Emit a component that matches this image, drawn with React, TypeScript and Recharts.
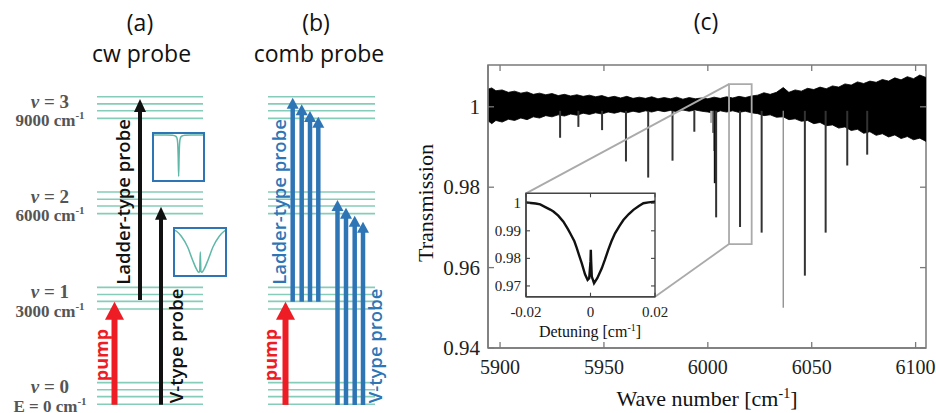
import React from 'react';
import {
  ComposedChart,
  LineChart,
  Line,
  Area,
  Scatter,
  XAxis,
  YAxis,
  ReferenceArea,
  ReferenceLine,
} from 'recharts';

// ---------------- Panel (c): transmission spectrum ----------------
const envW = [5894.3, 5896, 5898, 5901, 5904, 5907, 5910, 5913, 5916, 5919, 5922, 5925, 5928, 5931, 5934, 5937, 5940, 5943, 5946, 5949, 5952, 5955, 5958, 5961, 5964, 5967, 5970, 5973, 5976, 5979, 5982, 5985, 5988, 5991, 5994, 5997, 6000, 6003, 6006, 6009, 6012, 6015, 6018, 6021, 6024, 6027, 6030, 6033, 6036.3, 6039, 6042, 6045, 6048, 6051, 6054, 6057, 6060, 6063, 6066, 6069, 6072, 6075, 6078, 6081, 6084, 6087, 6090, 6093, 6096, 6099, 6102, 6105];
const envHi = [1.0044, 1.0047, 1.004, 1.0042, 1.0036, 1.0039, 1.0034, 1.0037, 1.0031, 1.0034, 1.003, 1.0033, 1.0028, 1.0031, 1.0027, 1.003, 1.0026, 1.0029, 1.0025, 1.0028, 1.0023, 1.0026, 1.0022, 1.0026, 1.0021, 1.0024, 1.0021, 1.0025, 1.002, 1.0023, 1.002, 1.0024, 1.0019, 1.0023, 1.002, 1.0022, 1.002, 1.0024, 1.0021, 1.0025, 1.0022, 1.0026, 1.0023, 1.0027, 1.0029, 1.0035, 1.0031, 1.0036, 1.0048, 1.0036, 1.0042, 1.0039, 1.0046, 1.0043, 1.0049, 1.0045, 1.0052, 1.0049, 1.0057, 1.0054, 1.0062, 1.0058, 1.0064, 1.0061, 1.0068, 1.0064, 1.0072, 1.0067, 1.0075, 1.007, 1.0079, 1.0073];
const envLo = [0.9965, 0.9958, 0.9966, 0.9962, 0.9969, 0.9966, 0.9972, 0.9968, 0.9975, 0.9972, 0.9978, 0.9975, 0.998, 0.9977, 0.9982, 0.9979, 0.9984, 0.9981, 0.9985, 0.9982, 0.9987, 0.9984, 0.9988, 0.9985, 0.9989, 0.9986, 0.999, 0.9987, 0.9991, 0.9988, 0.9991, 0.9988, 0.9992, 0.9989, 0.9992, 0.9989, 0.9987, 0.9984, 0.999, 0.9987, 0.999, 0.9986, 0.9989, 0.9985, 0.9983, 0.9978, 0.998, 0.9974, 0.9975, 0.9968, 0.997, 0.9964, 0.9966, 0.9958, 0.9961, 0.9953, 0.9955, 0.9947, 0.995, 0.9941, 0.9944, 0.9934, 0.9938, 0.9929, 0.9933, 0.9925, 0.993, 0.9921, 0.9926, 0.9918, 0.9922, 0.9914];

const dipW = [5928.9, 5937.7, 5949.1, 5960.6, 5971.3, 5983.0, 5993.5, 6001.6, 6002.5, 6003.2, 6003.6, 6004.0, 6015.5, 6025.9, 6036.3, 6046.7, 6056.7, 6067.1, 6076.7];
const dipMin = [0.9923, 0.995, 0.9942, 0.9864, 0.9824, 0.9866, 0.9938, 0.996, 0.9935, 0.989, 0.981, 0.9725, 0.9701, 0.9687, 0.95, 0.958, 0.9687, 0.9854, 0.9881];
const dipTone = ['dark', 'dark', 'dark', 'dark', 'dark', 'dark', 'dark', 'faint', 'mid', 'dark', 'thick', 'dark', 'dark', 'dark', 'light', 'dark', 'dark', 'dark', 'dark'];

const xTicksMain = [5900, 5950, 6000, 6050, 6100];
const yTicksMain = [0.94, 0.96, 0.98, 1];

// zoom window drawn in panel (c) and the inset corners it connects to
const zoomW = [6010.2, 6021.1];
const zoomT = [0.96585, 1.00565];
const insetCornerW = [5912.5, 5974.6];
const insetCornerT = [0.97846, 0.95274];

// inset: detuning scan
const detuning = [-0.02, -0.0185, -0.017, -0.0156, -0.014, -0.0125, -0.0115, -0.01, -0.0084, -0.007, -0.0063, -0.005, -0.0043, -0.0035, -0.0027, -0.0017, -0.0009, -0.0004, 0.0, 0.0001, 0.0002, 0.0004, 0.0011, 0.0021, 0.0035, 0.0045, 0.0055, 0.0065, 0.0076, 0.009, 0.0102, 0.0118, 0.0133, 0.015, 0.0164, 0.018, 0.02];
const insetT = [1.0003, 1.0001, 0.9999, 0.9996, 0.9986, 0.9977, 0.997, 0.9955, 0.9933, 0.9906, 0.9891, 0.9862, 0.9839, 0.981, 0.9782, 0.9742, 0.9722, 0.9728, 0.979, 0.9831, 0.979, 0.9734, 0.971, 0.9728, 0.9764, 0.9796, 0.9831, 0.9862, 0.9891, 0.9918, 0.9939, 0.996, 0.9976, 0.999, 1.0, 1.0003, 1.0006];
const xTicksInset = [-0.02, 0, 0.02];
const yTicksInset = [0.97, 0.98, 0.99, 1];

// ---------------- Panels (a), (b): level diagrams ----------------
const vibQuanta = [0, 1, 2, 3];
const vibEnergy = [0, 3000, 6000, 9000];
const energyText = ['E = 0 cm', '3000 cm', '6000 cm', '9000 cm'];
const subLevelOffset = [0, 240, 455, 680];

// arrows: position slot, start energy, end energy, kind
const arrowX = [114.5, 140, 161, 285.5, 292.7, 301.7, 310, 318.3, 337.5, 346, 354.7, 363];
const arrowFrom = [-15, 3282, -15, -20, 3228, 3228, 3228, 3228, -23, -23, -23, -23];
const arrowTo = [3228, 9609, 6219, 3228, 9650, 9442, 9231, 9052, 6430, 6187, 5935, 5747];
const arrowKind = ['pump', 'black', 'black', 'pump', 'blue', 'blue', 'blue', 'blue', 'blue', 'blue', 'blue', 'blue'];

const arrowText = ['Ladder-type probe', 'V-type probe', 'pump', 'Ladder-type probe', 'V-type probe', 'pump'];
const arrowTextX = [123, 176, 101, 278.5, 375, 270];
const arrowTextE = [6367, 1834, 1550, 6367, 1834, 1550];
const arrowTextKind = ['black', 'black', 'pump', 'blue', 'blue', 'pump'];

// mini sketches inside panel (a)
const miniX1 = [-1, -0.5, -0.25, -0.12, -0.07, -0.04, -0.02, 0, 0.02, 0.04, 0.07, 0.12, 0.25, 0.5, 1];
const miniY1 = [1, 1, 0.99, 0.97, 0.93, 0.82, 0.55, 0.08, 0.55, 0.82, 0.93, 0.97, 0.99, 1, 1];
const miniX2 = [-1, -0.94, -0.75, -0.5, -0.31, -0.15, -0.06, -0.025, 0, 0.025, 0.06, 0.15, 0.31, 0.5, 0.75, 0.94, 1];
const miniY2 = [0.99, 0.97, 0.86, 0.62, 0.34, 0.13, 0.06, 0.08, 0.51, 0.08, 0.06, 0.13, 0.34, 0.62, 0.86, 0.97, 0.99];

// ---------------- styling / layout ----------------
const SERIF = '"Liberation Serif", "Times New Roman", serif';
const SANS = '"Open Sans", "Noto Sans", sans-serif';
const FRAME = '#7a7a7a';
const LEVEL = '#86cdb9';
const BLUE = '#2e75b6';
const RED = '#ee1c25';
const TEXT_COLORS: Record<string, string> = { black: '#111', blue: BLUE, pump: RED };
const ARROW_STYLE: Record<string, { color: string; shaft: number; hw: number; hh: number }> = {
  pump: { color: RED, shaft: 6, hw: 19, hh: 18 },
  black: { color: '#111', shaft: 4, hw: 12, hh: 13 },
  blue: { color: BLUE, shaft: 4.5, hw: 12, hh: 11 },
};
const DIP_STYLE: Record<string, { color: string; w: number }> = {
  dark: { color: '#333', w: 2 },
  faint: { color: '#aaa', w: 2 },
  mid: { color: '#777', w: 2 },
  thick: { color: '#111', w: 3 },
  light: { color: '#8a8a8a', w: 1.3 },
};
const PANEL_SPAN = [
  [97, 203],
  [268, 375],
];
const MAIN_W = 438;
const MAIN_H = 283;
const INSET_W = 129;
const INSET_H = 103.4;

const envData = envW.map((w, i) => ({ w, hi: envHi[i], lo: envLo[i] }));
const insetData = detuning.map((d, i) => ({ d, t: insetT[i] }));

const fmtT = (v: number) => (v === 1 ? '1' : v.toFixed(2));
const fmtD = (v: number) => (v === 0 ? '0' : v.toFixed(2));

const MainYTick = (p: any) => {
  const { x, y, payload } = p;
  const ax = x + 8;
  return (
    <g>
      <text x={x} y={y} textAnchor="end" dominantBaseline="central" fontFamily={SERIF} fontSize={21} fill="#222">
        {fmtT(payload.value)}
      </text>
      <line x1={ax} x2={ax + 6} y1={y} y2={y} stroke={FRAME} strokeWidth={1.3} />
      <line x1={ax + MAIN_W} x2={ax + MAIN_W - 6} y1={y} y2={y} stroke={FRAME} strokeWidth={1.3} />
    </g>
  );
};

const MainXTick = (p: any) => {
  const { x, y, payload } = p;
  const ay = y - 8;
  return (
    <g>
      <text x={x} y={y + 18} textAnchor="middle" fontFamily={SERIF} fontSize={20} fill="#222">
        {payload.value}
      </text>
      <line x1={x} x2={x} y1={ay} y2={ay - 6} stroke={FRAME} strokeWidth={1.3} />
      <line x1={x} x2={x} y1={ay - MAIN_H} y2={ay - MAIN_H + 6} stroke={FRAME} strokeWidth={1.3} />
    </g>
  );
};

const InsetYTick = (p: any) => {
  const { x, y, payload } = p;
  const ax = x + 5;
  return (
    <g>
      <text x={x} y={y} textAnchor="end" dominantBaseline="central" fontFamily={SERIF} fontSize={15} fill="#222">
        {fmtT(payload.value)}
      </text>
      <line x1={ax} x2={ax + 4} y1={y} y2={y} stroke="#444" strokeWidth={1.1} />
      <line x1={ax + INSET_W} x2={ax + INSET_W - 4} y1={y} y2={y} stroke="#444" strokeWidth={1.1} />
    </g>
  );
};

const InsetXTick = (p: any) => {
  const { x, y, payload } = p;
  const ay = y - 6;
  return (
    <g>
      <text x={x} y={y + 14} textAnchor="middle" fontFamily={SERIF} fontSize={15} fill="#222">
        {fmtD(payload.value)}
      </text>
      <line x1={x} x2={x} y1={ay} y2={ay - 4} stroke="#444" strokeWidth={1.1} />
      <line x1={x} x2={x} y1={ay - INSET_H} y2={ay - INSET_H + 4} stroke="#444" strokeWidth={1.1} />
    </g>
  );
};

const levelTicks = vibEnergy.map((e) => e + 340);

const LevelTick = (p: any) => {
  const { x, y, payload } = p;
  const i = levelTicks.indexOf(payload.value);
  const cx = x - 44;
  return (
    <g fontFamily={SERIF} fontWeight={700} fill="#555">
      <text x={cx} y={y} textAnchor="middle" fontSize={19}>
        <tspan fontStyle="italic">v</tspan>
        {` = ${vibQuanta[i]}`}
      </text>
      <text x={cx} y={y + 18.5} textAnchor="middle" fontSize={17}>
        {energyText[i]}
        <tspan dy={-7} fontSize={11}>
          -1
        </tspan>
      </text>
    </g>
  );
};

const levelLines: { x0: number; x1: number; e: number }[] = [];
PANEL_SPAN.forEach(([x0, x1]) => {
  vibEnergy.forEach((base) => {
    subLevelOffset.forEach((off) => levelLines.push({ x0, x1, e: base + off }));
  });
});

const headData = arrowX.map((x, i) => ({ x, e: arrowTo[i], kind: arrowKind[i] }));
const labelData = arrowText.map((t, i) => ({ x: arrowTextX[i], e: arrowTextE[i], t, kind: arrowTextKind[i] }));

const HeadShape = (p: any) => {
  const { cx, cy, payload } = p;
  const s = ARROW_STYLE[payload.kind];
  return (
    <polygon
      points={`${cx},${cy} ${cx - s.hw / 2},${cy + s.hh} ${cx + s.hw / 2},${cy + s.hh}`}
      fill={s.color}
    />
  );
};

const LabelShape = (p: any) => {
  const { cx, cy, payload } = p;
  return (
    <text
      x={cx}
      y={cy}
      transform={`rotate(-90 ${cx} ${cy})`}
      textAnchor="middle"
      dominantBaseline="central"
      fontFamily={SANS}
      fontWeight={payload.kind === 'pump' ? 700 : 600}
      fontSize={payload.kind === 'pump' ? 18 : 18.5}
      fill={TEXT_COLORS[payload.kind]}
    >
      {payload.t}
    </text>
  );
};

function MiniSketch({ left, top, w, h, xs, ys }: { left: number; top: number; w: number; h: number; xs: number[]; ys: number[] }) {
  const data = xs.map((x, i) => ({ x, y: ys[i] }));
  return (
    <div
      style={{
        position: 'absolute',
        left,
        top,
        width: w + 4,
        height: h + 4,
        border: `2px solid ${BLUE}`,
        boxSizing: 'border-box',
        background: '#fff',
      }}
    >
      <LineChart width={w} height={h} data={data} margin={{ top: 0, right: 0, bottom: 0, left: 0 }}>
        <XAxis dataKey="x" type="number" domain={[-1, 1]} hide />
        <YAxis type="number" domain={[0, 1.02]} hide />
        <Line type="monotone" dataKey="y" stroke="#5fb8a8" strokeWidth={1.5} dot={false} isAnimationActive={false} />
      </LineChart>
    </div>
  );
}

export default function App() {
  return (
    <div style={{ position: 'relative', width: 936, height: 413, background: '#fff', overflow: 'hidden' }}>
      <style>{'body{margin:0;}'}</style>

      {/* Panels (a) and (b) */}
      <div style={{ position: 'absolute', left: 0, top: 0 }}>
        <ComposedChart width={440} height={413} margin={{ top: 0, right: 0, bottom: 0, left: 0 }}>
          <XAxis dataKey="x" type="number" domain={[96, 440]} hide allowDataOverflow />
          <YAxis
            type="number"
            domain={[-275, 12725]}
            ticks={levelTicks}
            interval={0}
            width={96}
            axisLine={false}
            tickLine={false}
            tickSize={0}
            tickMargin={2}
            tick={LevelTick}
            allowDataOverflow
          />
          {levelLines.map((l, i) => (
            <Line
              key={`lv${i}`}
              data={[
                { x: l.x0, e: l.e },
                { x: l.x1, e: l.e },
              ]}
              dataKey="e"
              stroke={LEVEL}
              strokeWidth={1.6}
              dot={false}
              isAnimationActive={false}
            />
          ))}
          {arrowX.map((x, i) => (
            <Line
              key={`ar${i}`}
              data={[
                { x, e: arrowFrom[i] },
                { x, e: arrowTo[i] - 250 },
              ]}
              dataKey="e"
              stroke={ARROW_STYLE[arrowKind[i]].color}
              strokeWidth={ARROW_STYLE[arrowKind[i]].shaft}
              strokeLinecap="butt"
              dot={false}
              isAnimationActive={false}
            />
          ))}
          <Scatter data={headData} dataKey="e" shape={HeadShape} isAnimationActive={false} />
          <Scatter data={labelData} dataKey="e" shape={LabelShape} isAnimationActive={false} />
        </ComposedChart>
      </div>

      <MiniSketch left={151.7} top={131.7} w={49.3} h={46} xs={miniX1} ys={miniY1} />
      <MiniSketch left={172.7} top={227.3} w={50.6} h={46} xs={miniX2} ys={miniY2} />

      {/* Panel (c) */}
      <div style={{ position: 'absolute', left: 400, top: 0 }}>
        <ComposedChart width={536} height={413} data={envData} margin={{ top: 65, right: 10, bottom: 25, left: 28 }}>
          <XAxis
            dataKey="w"
            type="number"
            domain={[5894.2, 6105]}
            ticks={xTicksMain}
            interval={0}
            height={40}
            allowDataOverflow
            axisLine={{ stroke: FRAME, strokeWidth: 1.5 }}
            tickLine={false}
            tickSize={0}
            tickMargin={8}
            tick={MainXTick}
          />
          <YAxis
            type="number"
            domain={[0.94, 1.0104]}
            ticks={yTicksMain}
            interval={0}
            width={60}
            allowDataOverflow
            axisLine={{ stroke: FRAME, strokeWidth: 1.5 }}
            tickLine={false}
            tickSize={0}
            tickMargin={8}
            tick={MainYTick}
          />
          <ReferenceArea x1={5894.2} x2={6105} y1={0.94} y2={1.0104} fill="none" stroke={FRAME} strokeWidth={1.5} />
          <Area
            type="linear"
            dataKey={(d: any) => [d.lo, d.hi]}
            stroke="#000"
            strokeWidth={0.8}
            fill="#000"
            fillOpacity={1}
            dot={false}
            activeDot={false}
            isAnimationActive={false}
          />
          {dipW.map((w, i) => (
            <Line
              key={`dip${i}`}
              data={[
                { w, t: 0.999 },
                { w, t: dipMin[i] },
              ]}
              dataKey="t"
              stroke={DIP_STYLE[dipTone[i]].color}
              strokeWidth={DIP_STYLE[dipTone[i]].w}
              dot={false}
              isAnimationActive={false}
            />
          ))}
          <ReferenceArea
            x1={zoomW[0]}
            x2={zoomW[1]}
            y1={zoomT[0]}
            y2={zoomT[1]}
            fill="none"
            stroke="#aaa"
            strokeWidth={1.8}
          />
          <ReferenceLine
            segment={[
              { x: insetCornerW[0], y: insetCornerT[0] },
              { x: zoomW[0], y: zoomT[1] },
            ]}
            stroke="#aaa"
            strokeWidth={1.8}
          />
          <ReferenceLine
            segment={[
              { x: insetCornerW[1], y: insetCornerT[1] },
              { x: zoomW[0], y: zoomT[0] },
            ]}
            stroke="#aaa"
            strokeWidth={1.8}
          />
        </ComposedChart>
      </div>

      {/* Inset of panel (c) */}
      <div style={{ position: 'absolute', left: 480, top: 180 }}>
        <ComposedChart width={190} height={170} data={insetData} margin={{ top: 13.3, right: 15, bottom: 0, left: 6 }}>
          <XAxis
            dataKey="d"
            type="number"
            domain={[-0.02, 0.02]}
            ticks={xTicksInset}
            interval={0}
            height={53.3}
            allowDataOverflow
            axisLine={{ stroke: '#444', strokeWidth: 1.4 }}
            tickLine={false}
            tickSize={0}
            tickMargin={6}
            tick={InsetXTick}
          />
          <YAxis
            type="number"
            domain={[0.9661, 1.0036]}
            ticks={yTicksInset}
            interval={0}
            width={40}
            allowDataOverflow
            axisLine={{ stroke: '#444', strokeWidth: 1.4 }}
            tickLine={false}
            tickSize={0}
            tickMargin={5}
            tick={InsetYTick}
          />
          <ReferenceArea x1={-0.02} x2={0.02} y1={0.9661} y2={1.0036} fill="#fff" fillOpacity={1} stroke="#444" strokeWidth={1.4} />
          <Line type="linear" dataKey="t" stroke="#111" strokeWidth={2.4} dot={false} isAnimationActive={false} />
        </ComposedChart>
      </div>

      {/* titles and axis titles */}
      <svg width={936} height={413} style={{ position: 'absolute', left: 0, top: 0, pointerEvents: 'none' }}>
        <g fontFamily={SANS} fontSize={23} fill="#111" textAnchor="middle">
          <text x={140} y={31}>(a)</text>
          <text x={141.5} y={62}>cw probe</text>
          <text x={316} y={31}>(b)</text>
          <text x={319} y={62}>comb probe</text>
          <text x={706} y={30}>(c)</text>
        </g>
        <text
          x={425}
          y={203}
          transform="rotate(-90 425 203)"
          textAnchor="middle"
          dominantBaseline="central"
          fontFamily={SERIF}
          fontSize={22}
          fill="#111"
        >
          Transmission
        </text>
        <text x={707} y={406} textAnchor="middle" fontFamily={SERIF} fontSize={22} fill="#111">
          Wave number [cm
          <tspan dy={-8} fontSize={14}>
            -1
          </tspan>
          <tspan dy={8}>]</tspan>
        </text>
        <text x={590} y={337} textAnchor="middle" fontFamily={SERIF} fontSize={16} fill="#111">
          Detuning [cm
          <tspan dy={-6} fontSize={10}>
            -1
          </tspan>
          <tspan dy={6}>]</tspan>
        </text>
      </svg>
    </div>
  );
}
